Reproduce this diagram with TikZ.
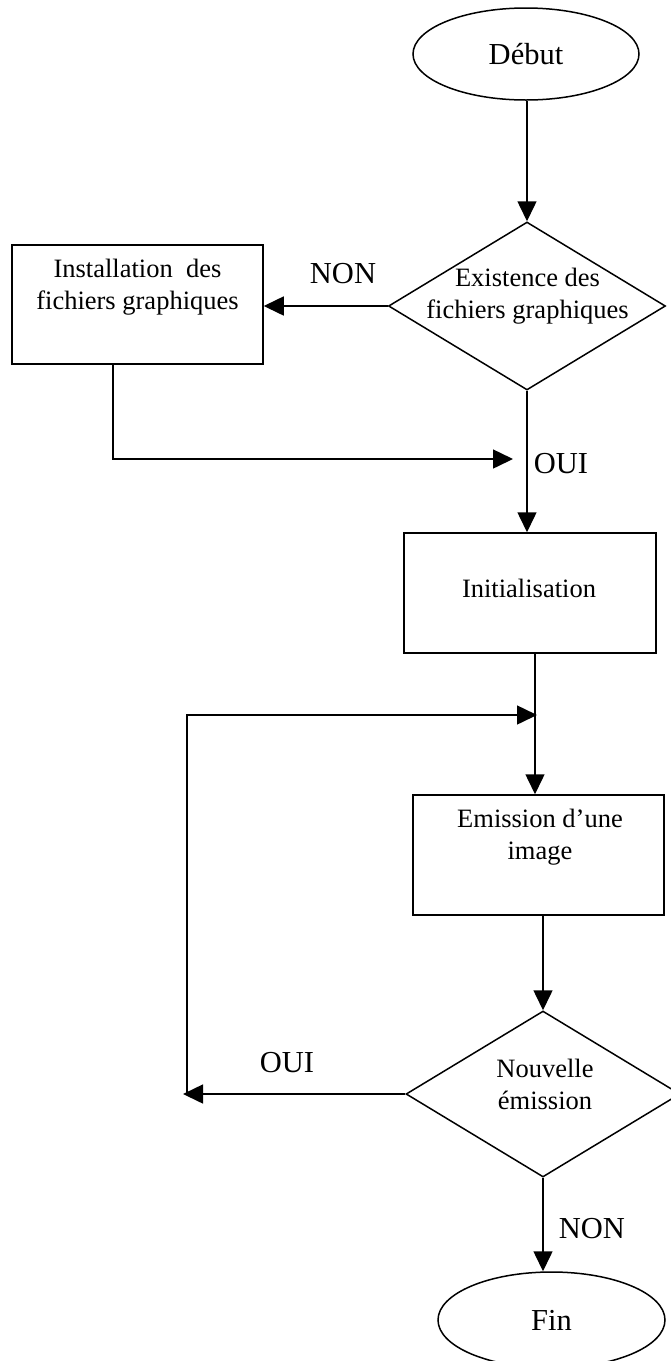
\documentclass[tikz,border=0pt]{standalone}
\usepackage{fontspec}
\setmainfont{Liberation Serif}
\usetikzlibrary{shapes.geometric,arrows.meta}

\begin{document}
\begin{tikzpicture}[
    x=1pt, y=-1pt,
    line width=1.5pt,
    bodytext/.style={font=\fontsize{26.5}{32}\selectfont, align=center, inner sep=0pt},
    labeltext/.style={font=\fontsize{30.5}{36}\selectfont, inner sep=0pt},
    terminal/.style={draw, ellipse, inner sep=0pt, font=\fontsize{30.5}{36}\selectfont},
    stepbox/.style={draw, rectangle, inner sep=0pt, minimum width=251pt, minimum height=120pt},
    decision/.style={draw, diamond, inner sep=0pt},
    arr/.style={-{Triangle[length=20pt,width=19pt]}}
  ]
  % page frame
  \fill[white] (0,0) rectangle (671,1361);
  \useasboundingbox (0,0) rectangle (671,1361);

  % shapes
  \node[terminal, minimum width=226pt, minimum height=92pt] (debut) at (526,54) {Début};
  \node[decision, minimum width=277pt, minimum height=168pt] (exist) at (527,306) {};
  \node[bodytext] (existtxt) at (527.5,296) {Existence des\\fichiers graphiques};

  \node[stepbox, minimum height=119pt] (inst) at (137.5,304.5) {};
  \node[bodytext] (insttxt) at (137.5,287) {Installation\ \ des\\fichiers graphiques};

  \node[stepbox, minimum width=252pt] (init) at (530,593) {};
  \node[bodytext, anchor=base] (inittxt) at (529,597) {Initialisation};

  \node[stepbox] (emis) at (538.5,855) {};
  \node[bodytext] (emistxt) at (540,837) {Emission d’une\\image};

  \node[decision, minimum width=274pt, minimum height=166pt] (nouv) at (543,1094) {};
  \node[bodytext] (nouvtxt) at (545,1084) {Nouvelle\\émission};

  \node[terminal, minimum width=227pt, minimum height=96pt] (fin) at (551.5,1320) {Fin};

  % branch labels
  \node[labeltext, anchor=base] (non1) at (343,283) {NON};
  \node[labeltext, anchor=base west] (oui1) at (533,473) {OUI};
  \node[labeltext, anchor=base] (oui2) at (287,1072) {OUI};
  \node[labeltext, anchor=base west] (non2) at (558,1238) {NON};

  % routing points
  \coordinate (bend) at (113,459);
  \coordinate (ouitip) at (513,459);
  \coordinate (loopin) at (535,715);
  \coordinate (looptip) at (537,715);
  \coordinate (backtip) at (183,1094);
  \coordinate (backcorner) at (187,1094);

  % connectors
  \draw[arr] (debut.south -| exist.north) -- (exist.north);
  \draw[arr] (exist.west) -- (inst.east |- exist.west);
  \draw[arr] (inst.south -| bend) -- (bend) -- (ouitip);
  \draw[arr] (exist.south) -- (init.north -| exist.south);
  \draw[arr] (init.south -| loopin) -- (emis.north -| loopin);
  \draw[arr] (emis.south -| nouv.north) -- (nouv.north);
  \draw[arr] (nouv.west) -- (backtip);
  \draw[arr] (backcorner) |- (looptip);
  \draw[arr] (nouv.south) -- (fin.north -| nouv.south);
\end{tikzpicture}
\end{document}
